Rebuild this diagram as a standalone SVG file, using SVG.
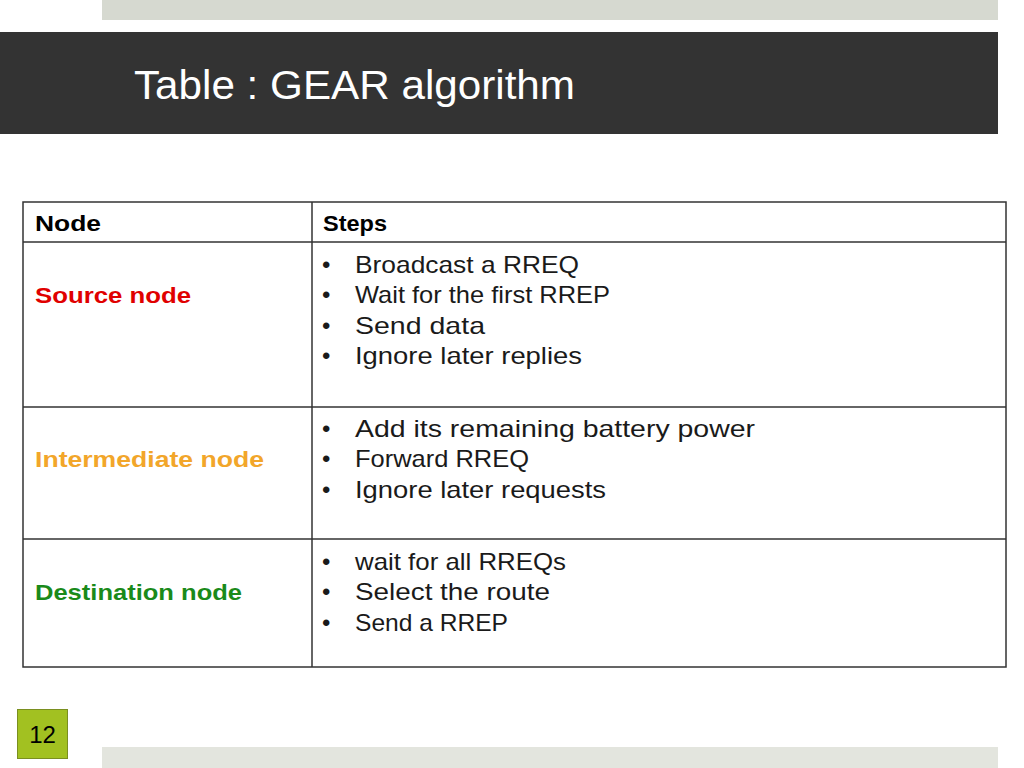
<svg xmlns="http://www.w3.org/2000/svg" width="1024" height="768" viewBox="0 0 1024 768">
<style>
text{font-family:"Liberation Sans",Arial,sans-serif}
.t{font-size:24px;fill:#1a1a1a}
.h{font-size:22px;font-weight:bold;fill:#000}
.n{font-size:22px;font-weight:bold}
.g{stroke:#333;stroke-width:1.5;fill:none}
</style>
<rect width="1024" height="768" fill="#fff"/>
<rect x="102" y="0" width="896" height="20" fill="#d6d9d0"/>
<rect x="0" y="32" width="998" height="102" fill="#333"/>
<text x="134" y="99" font-size="40" fill="#fff" textLength="441" lengthAdjust="spacingAndGlyphs">Table : GEAR algorithm</text>
<g id="table">
<rect x="23" y="202" width="983" height="465" class="g"/>
<line x1="312" y1="202" x2="312" y2="667" class="g"/>
<line x1="23" y1="242" x2="1006" y2="242" class="g"/>
<line x1="23" y1="407" x2="1006" y2="407" class="g"/>
<line x1="23" y1="539" x2="1006" y2="539" class="g"/>
</g>
<g id="header">
<text x="35" y="231" class="h" textLength="66" lengthAdjust="spacingAndGlyphs">Node</text>
<text x="323" y="231" class="h" textLength="64" lengthAdjust="spacingAndGlyphs">Steps</text>
</g>
<g id="source">
<text x="35" y="303" class="n" fill="#e00000" textLength="156" lengthAdjust="spacingAndGlyphs">Source node</text>
<text x="322" y="273" class="t">•</text><text x="355" y="273" class="t" textLength="224" lengthAdjust="spacingAndGlyphs">Broadcast a RREQ</text>
<text x="322" y="303" class="t">•</text><text x="355" y="303" class="t" textLength="255" lengthAdjust="spacingAndGlyphs">Wait for the first RREP</text>
<text x="322" y="334" class="t">•</text><text x="355" y="334" class="t" textLength="130" lengthAdjust="spacingAndGlyphs">Send data</text>
<text x="322" y="364" class="t">•</text><text x="355" y="364" class="t" textLength="227" lengthAdjust="spacingAndGlyphs">Ignore later replies</text>
</g>
<g id="intermediate">
<text x="35" y="467" class="n" fill="#f2a62a" textLength="229" lengthAdjust="spacingAndGlyphs">Intermediate node</text>
<text x="322" y="437" class="t">•</text><text x="355" y="437" class="t" textLength="400" lengthAdjust="spacingAndGlyphs">Add its remaining battery power</text>
<text x="322" y="467" class="t">•</text><text x="355" y="467" class="t" textLength="174" lengthAdjust="spacingAndGlyphs">Forward RREQ</text>
<text x="322" y="498" class="t">•</text><text x="355" y="498" class="t" textLength="251" lengthAdjust="spacingAndGlyphs">Ignore later requests</text>
</g>
<g id="destination">
<text x="35" y="600" class="n" fill="#1a8a1a" textLength="207" lengthAdjust="spacingAndGlyphs">Destination node</text>
<text x="322" y="570" class="t">•</text><text x="355" y="570" class="t" textLength="211" lengthAdjust="spacingAndGlyphs">wait for all RREQs</text>
<text x="322" y="600" class="t">•</text><text x="355" y="600" class="t" textLength="195" lengthAdjust="spacingAndGlyphs">Select the route</text>
<text x="322" y="631" class="t">•</text><text x="355" y="631" class="t" textLength="153" lengthAdjust="spacingAndGlyphs">Send a RREP</text>
</g>
<rect x="102" y="747" width="896" height="21" fill="#e3e5de"/>
<rect x="17.5" y="709.5" width="50" height="49" fill="#a2c121" stroke="#7a8f20" stroke-width="1"/>
<text x="42.5" y="743" text-anchor="middle" font-size="24" fill="#000">12</text>
</svg>
